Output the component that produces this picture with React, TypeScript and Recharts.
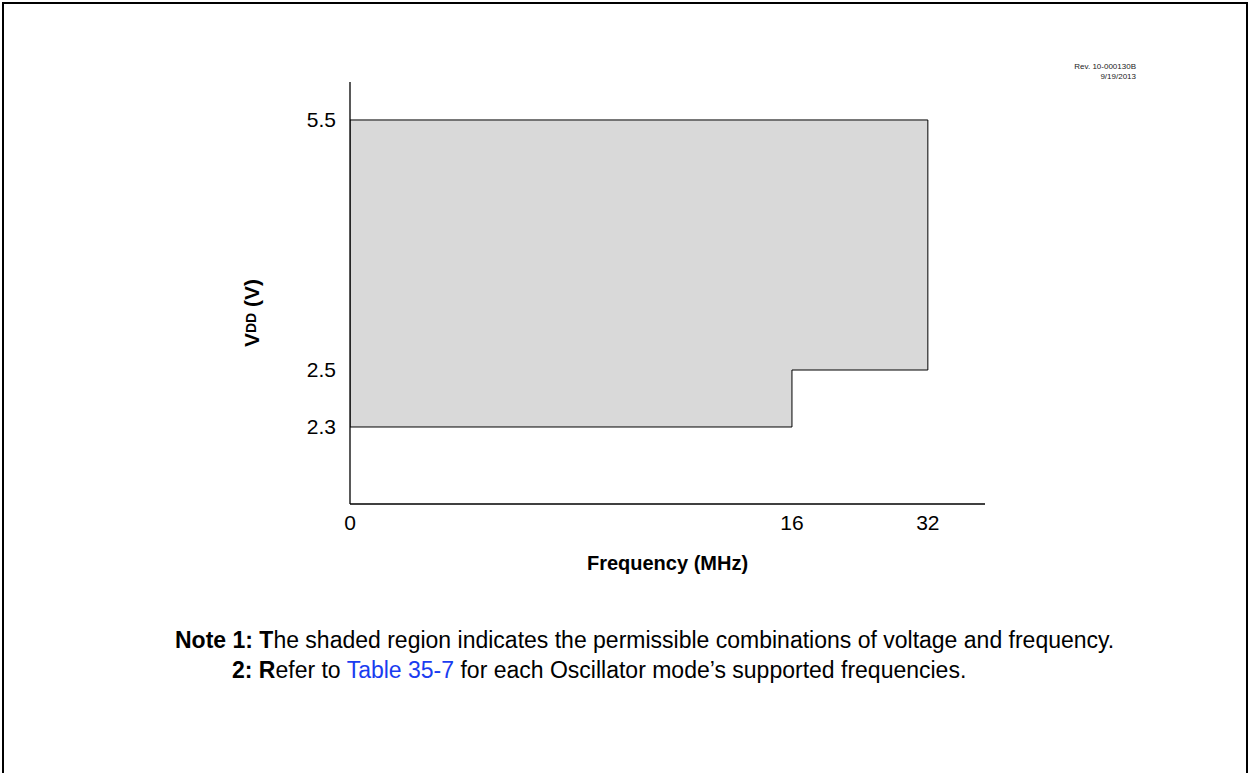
import React from 'react'
import {
  ComposedChart,
  Area,
  Line,
  XAxis,
  YAxis,
  Label,
} from 'recharts'

// operating region: frequency breakpoints and the VDD band at each
const FREQ_MHZ = [0, 16, 32]
const VDD_MIN = [2.3, 2.5, 2.5]
const VDD_MAX = [5.5, 5.5, 5.5]

const X_TICKS = [0, 16, 32]
const Y_TICKS = [2.3, 2.5, 5.5]

// the axes are not to scale: each tick value sits at a fixed fraction of the axis
const X_TICK_POS = [0, 0.696, 0.91]
const Y_TICK_POS = [0.1825, 0.3175, 0.91]

const FONT = 'Arial, "Liberation Sans", Helvetica, sans-serif'

function piecewise(values: number[], pos: number[]) {
  return (v: number) => {
    for (let i = 0; i < values.length - 1; i++) {
      if (v <= values[i + 1] || i === values.length - 2) {
        const t = (v - values[i]) / (values[i + 1] - values[i])
        return pos[i] + t * (pos[i + 1] - pos[i])
      }
    }
    return pos[0]
  }
}

const mapX = piecewise(X_TICKS, X_TICK_POS)
const mapY = piecewise(Y_TICKS, Y_TICK_POS)

const labelFor = (ticks: number[], pos: number[]) => (p: number) => {
  const i = pos.findIndex(q => Math.abs(q - p) < 1e-6)
  return i >= 0 ? String(ticks[i]) : ''
}

const fillData = FREQ_MHZ.map((f, i) => ({
  x: mapX(f),
  band: [mapY(VDD_MIN[i]), mapY(VDD_MAX[i])],
}))

// trace the outline: top edge left->right, then the stepped bottom edge back
function outline() {
  const n = FREQ_MHZ.length
  const pts: { x: number; y: number }[] = []
  for (let i = 0; i < n; i++) pts.push({ x: mapX(FREQ_MHZ[i]), y: mapY(VDD_MAX[i]) })
  pts.push({ x: mapX(FREQ_MHZ[n - 1]), y: mapY(VDD_MIN[n - 1]) })
  for (let i = n - 1; i >= 1; i--) {
    pts.push({ x: mapX(FREQ_MHZ[i]), y: mapY(VDD_MIN[i - 1]) })
    pts.push({ x: mapX(FREQ_MHZ[i - 1]), y: mapY(VDD_MIN[i - 1]) })
  }
  pts.push({ x: mapX(FREQ_MHZ[0]), y: mapY(VDD_MAX[0]) })
  return pts
}
const outlineData = outline()

function VddLabel() {
  const cx = 251
  const cy = 313
  return (
    <text
      x={cx}
      y={cy}
      transform={`rotate(-90 ${cx} ${cy})`}
      textAnchor="middle"
      dominantBaseline="central"
      fontFamily={FONT}
      fontWeight="bold"
      fontSize={21}
      fill="#000"
    >
      V<tspan fontSize={14}>DD</tspan> (V)
    </text>
  )
}

export default function App() {
  return (
    <div style={{ position: 'relative', width: 1250, height: 773, overflow: 'hidden', background: '#fff', fontFamily: FONT }}>
      <style>{'body{margin:0}'}</style>
      <div style={{ position: 'absolute', left: 2, top: 2, width: 1246, height: 800, border: '2px solid #000', boxSizing: 'border-box' }} />

      <div style={{ position: 'absolute', left: 0, top: 0 }}>
        <ComposedChart width={1250} height={773} margin={{ top: 82, left: 270, right: 265, bottom: 209 }}>
          <XAxis
            dataKey="x"
            type="number"
            domain={[0, 1]}
            ticks={X_TICK_POS}
            tickFormatter={labelFor(X_TICKS, X_TICK_POS)}
            allowDataOverflow
            height={60}
            tickLine={false}
            tickSize={6}
            tickMargin={5}
            axisLine={{ stroke: '#000', strokeWidth: 1.3 }}
            tick={{ fontSize: 21, fill: '#000', fontFamily: FONT }}
          >
            <Label value="Frequency (MHz)" position="insideBottom" offset={-6} style={{ fontSize: 20, fontWeight: 'bold', fill: '#000', fontFamily: FONT }} />
          </XAxis>
          <YAxis
            type="number"
            domain={[0, 1]}
            ticks={Y_TICK_POS}
            tickFormatter={labelFor(Y_TICKS, Y_TICK_POS)}
            allowDataOverflow
            width={80}
            tickLine={false}
            tickSize={6}
            tickMargin={8}
            axisLine={{ stroke: '#000', strokeWidth: 1.3 }}
            tick={{ fontSize: 21, fill: '#000', fontFamily: FONT }}
          >
            <Label content={<VddLabel />} />
          </YAxis>
          <Area
            data={fillData}
            dataKey="band"
            type="stepAfter"
            fill="#d9d9d9"
            fillOpacity={1}
            stroke="none"
            isAnimationActive={false}
          />
          <Line
            data={outlineData}
            dataKey="y"
            type="linear"
            stroke="#000"
            strokeWidth={1}
            dot={false}
            activeDot={false}
            isAnimationActive={false}
          />
        </ComposedChart>
      </div>

      <div style={{ position: 'absolute', right: 1250 - 1136, top: 62, fontSize: 8, lineHeight: '10px', textAlign: 'right', color: '#222' }}>
        Rev. 10-000130B
        <br />
        9/19/2013
      </div>

      <div style={{ position: 'absolute', left: 175, top: 627, fontSize: 23, lineHeight: '26px', color: '#000', whiteSpace: 'nowrap' }}>
        <b>Note 1: T</b>he shaded region indicates the permissible combinations of voltage and frequency.
      </div>
      <div style={{ position: 'absolute', left: 232, top: 657, fontSize: 23, lineHeight: '26px', color: '#000', whiteSpace: 'nowrap' }}>
        <b>2: R</b>efer to <span style={{ color: '#1a3cf0' }}>Table 35-7</span> for each Oscillator mode’s supported frequencies.
      </div>
    </div>
  )
}
